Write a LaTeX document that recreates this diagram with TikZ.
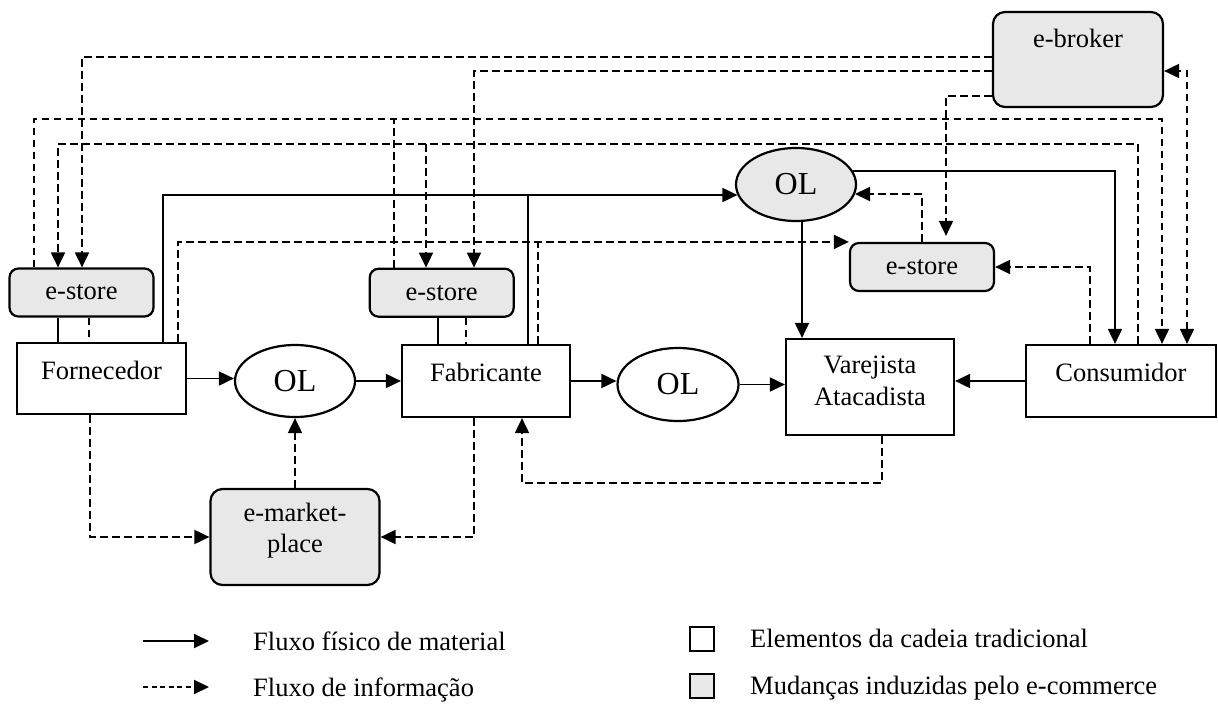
\documentclass[tikz,border=0pt]{standalone}
\usepackage{fontspec}
\setmainfont{Liberation Serif}
\usetikzlibrary{shapes.geometric,arrows.meta}
\definecolor{ecomfill}{HTML}{E8E8E8}
\tikzset{
  boxline/.style={draw, line width=2.2pt, inner sep=0pt},
  trad/.style={boxline, fill=white},
  ecom/.style={boxline, fill=ecomfill, rounded corners=12pt},
  estore/.style={ecom, rounded corners=9pt, minimum width=144, minimum height=48},
  olnode/.style={boxline, ellipse, fill=white, font=\fontsize{32}{36}\selectfont},
  txt/.style={inner sep=0pt, align=center},
  tip/.tip={Triangle[length=15pt,width=14pt]},
  matline/.style={line width=1.9pt},
  mat/.style={matline, -tip},
  infoline/.style={line width=1.9pt, dash pattern=on 7.5pt off 4.5pt},
  info/.style={infoline, -tip},
  infoboth/.style={infoline, tip-tip},
}
\begin{document}
\begin{tikzpicture}[x=1pt, y=-1pt, font=\fontsize{26.5}{31.5}\selectfont]
\useasboundingbox (0,0) rectangle (1218,709);

% ---- e-commerce elements ----
\node[ecom, minimum width=170, minimum height=95] (ebroker) at (1078,59.5) {};
\node[txt] (ebrokerT) at (1078,38) {e-broker};
\node[estore] (esL) at (81.5,292.5) {e-store};
\node[estore] (esM) at (441.7,292.7) {e-store};
\node[estore] (esR) at (922,267) {e-store};
\node[olnode, fill=ecomfill, minimum width=120, minimum height=73] (olT) at (796,184.5) {OL};
\node[ecom, minimum width=169, minimum height=96] (emk) at (295,537) {};
\node[txt] (emkT) at (295,530.5) {e-market-\\place};

% ---- traditional chain ----
\node[trad, minimum width=169, minimum height=71] (forn) at (101.5,378.5) {};
\node[txt] (fornT) at (101.5,370) {Fornecedor};
\node[olnode, minimum width=120, minimum height=72] (ol1) at (295,381) {OL};
\node[trad, minimum width=168, minimum height=72] (fab) at (486,381) {};
\node[txt] (fabT) at (486,372) {Fabricante};
\node[olnode, minimum width=121, minimum height=73] (ol2) at (678,384.5) {OL};
\node[trad, minimum width=168, minimum height=96] (var) at (870,387) {};
\node[txt] (varT) at (870,381) {Varejista\\Atacadista};
\node[trad, minimum width=190, minimum height=72] (cons) at (1121,381) {};
\node[txt] (consT) at (1121,372) {Consumidor};

% ---- physical flow ----
\draw[mat] (forn.east) -- (forn.east -| ol1.west);
\draw[mat] (ol1.east) -- (fab.west);
\draw[mat] (fab.east) -- (fab.east -| ol2.west);
\draw[mat] (ol2.east) -- (ol2.east -| var.west);
\draw[mat] (cons.west) -- (cons.west -| var.east);
\draw[mat] (forn.north -| 163,0) |- ([shift={(2.5,10.5)}]olT.west);
\draw[matline] (fab.north -| 528,0) -- (528,195);
\draw[mat] (olT.13.6) -| (cons.north -| 1115,0);
\draw[mat] ([xshift=6pt]olT.south) -- ([xshift=6pt]olT.south |- var.north);
\draw[matline] (esL.south -| 58,0) -- (forn.north -| 58,0);
\draw[matline] (esM.south -| 438,0) -- (fab.north -| 438,0);

% ---- information flow ----
\draw[infoline] (esL.south -| 89,0) -- (forn.north -| 89,0);
\draw[infoline] (esM.south -| 466,0) -- (fab.north -| 466,0);
\draw[info] (ebroker.west |- 0,57) -| (esL.north -| 82,0);
\draw[info] (ebroker.west |- 0,71) -| (esM.north -| 474,0);
\draw[info, shorten >=6pt] (ebroker.west |- 0,96) -| (esR.north -| 946,0);
\draw[info] (esL.north -| 34,0) |- (1162,119) -- (cons.north -| 1162,0);
\draw[infoline] (esM.north -| 394,0) -- (394,119);
\draw[info] (cons.north -| 1138,0) |- (58,144) -- (esL.north -| 58,0);
\draw[info] (426,144) -- (esM.north -| 426,0);
\draw[infoboth] (cons.north -| 1187,0) |- (ebroker.east |- 0,71);
\draw[info] (cons.north -| 1090,0) |- (esR.east);
\draw[info] (esR.north -| 922,0) |- ([shift={(-2.1,9.5)}]olT.east);
\draw[info] (forn.north -| 178,0) |- (esR.north west);
\draw[infoline] (fab.north -| 538,0) -- (538,243);
\draw[info] (forn.south -| 90,0) |- (emk.west);
\draw[info] (fab.south -| 474,0) |- (emk.east);
\draw[info] (emk.north) -- (ol1.south);
\draw[info] (var.south -| 882,0) |- (522,483) -- (fab.south -| 522,0);

% ---- legend ----
\coordinate (lgA1) at (143,641);
\coordinate (lgA2) at (209,641);
\coordinate (lgB1) at (143,687);
\coordinate (lgB2) at (209,687);
\draw[mat] (lgA1) -- (lgA2);
\draw[-tip, line width=1.9pt, dash pattern=on 5pt off 3.5pt] (lgB1) -- (lgB2);
\node[anchor=base west, inner sep=0pt] (lgT1) at (253,650) {Fluxo físico de material};
\node[anchor=base west, inner sep=0pt] (lgT2) at (253,696) {Fluxo de informação};
\node[trad, minimum width=24, minimum height=24] (lgS1) at (702,639) {};
\node[boxline, fill=ecomfill, minimum width=24, minimum height=24] (lgS2) at (702,686) {};
\node[anchor=base west, inner sep=0pt] (lgT3) at (750,647) {Elementos da cadeia tradicional};
\node[anchor=base west, inner sep=0pt] (lgT4) at (750,694) {Mudanças induzidas pelo e-commerce};
\end{tikzpicture}
\end{document}
